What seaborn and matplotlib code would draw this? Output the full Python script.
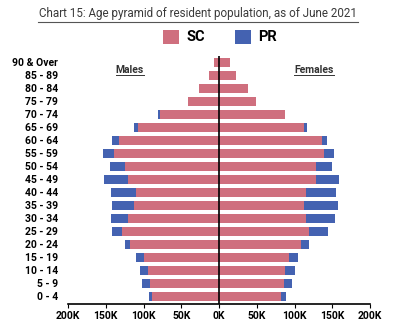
import matplotlib
matplotlib.use("Agg")
import matplotlib.pyplot as plt
from matplotlib.lines import Line2D
from matplotlib.patches import Patch
import seaborn as sns
import pandas as pd
import numpy as np

ages = ["90 & Over", "85 - 89", "80 - 84", "75 - 79", "70 - 74", "65 - 69", "60 - 64",
        "55 - 59", "50 - 54", "45 - 49", "40 - 44", "35 - 39", "30 - 34", "25 - 29",
        "20 - 24", "15 - 19", "10 - 14", "5 - 9", "0 - 4"]

male_sc = [6, 13, 27, 41, 78, 107, 133, 139, 124, 121, 110, 113, 120, 129, 118, 100, 94, 92, 89]
male_pr = [0, 0, 0, 0, 3, 6, 9, 14, 21, 31, 33, 29, 23, 13, 6, 10, 11, 10, 4]
female_sc = [14, 22, 38, 49, 88, 112, 136, 139, 128, 128, 115, 113, 115, 119, 108, 93, 88, 86, 82]
female_pr = [0, 0, 0, 0, 0, 4, 7, 13, 22, 31, 40, 44, 39, 25, 11, 12, 13, 11, 7]

ticks = [-200, -150, -100, -50, 0, 50, 100, 150, 200]
tick_labels = ["200K", "150K", "100K", "50K", "0K", "50K", "100K", "150K", "200K"]

SC_COLOR = "#CF6F7E"
PR_COLOR = "#4462B1"

plt.rcParams['font.family'] = ['Roboto', 'DejaVu Sans']

df = pd.DataFrame({
    "age": ages,
    "male_total": -(np.array(male_sc) + np.array(male_pr)) * 1.0,
    "male_sc": -np.array(male_sc) * 1.0,
    "female_total": (np.array(female_sc) + np.array(female_pr)) * 1.0,
    "female_sc": np.array(female_sc) * 1.0,
})

fig = plt.figure(figsize=(4.05, 3.27), dpi=100)
ax = fig.add_axes([68/405, 1-304/327, (370-68)/405, (304-56)/327])

bw = 0.76
sns.barplot(data=df, x="male_total", y="age", order=ages, color=PR_COLOR, width=bw,
            saturation=1, ax=ax, orient="h")
sns.barplot(data=df, x="female_total", y="age", order=ages, color=PR_COLOR, width=bw,
            saturation=1, ax=ax, orient="h")
sns.barplot(data=df, x="male_sc", y="age", order=ages, color=SC_COLOR, width=bw,
            saturation=1, ax=ax, orient="h")
sns.barplot(data=df, x="female_sc", y="age", order=ages, color=SC_COLOR, width=bw,
            saturation=1, ax=ax, orient="h")

n = len(ages)
ax.set_xlim(-200, 200)
ax.set_ylim(n - 1 + 0.58, -0.5)
ax.axvline(0, color="black", lw=1.2, zorder=5)

ax.set_xticks(ticks)
ax.set_xticklabels(tick_labels, fontsize=7.5, fontweight="bold")
ax.tick_params(axis="x", length=3, width=0.8, pad=2, colors="black")
ax.tick_params(axis="y", length=0, pad=7)
for lab in ax.get_yticklabels():
    lab.set_fontsize(7.5)
    lab.set_fontweight("bold")
ax.set_xlabel("")
ax.set_ylabel("")
for s in ["top", "right", "left"]:
    ax.spines[s].set_visible(False)
ax.spines["bottom"].set_color("black")
ax.spines["bottom"].set_linewidth(1.2)
ax.grid(False)

# Title with underline
fig.text(198/405, 1-14/327, "Chart 15: Age pyramid of resident population, as of June 2021",
         ha="center", va="center", fontsize=8.4, color="#3a3a3a")
fig.add_artist(Line2D([38/405, 358/405], [1-21.5/327, 1-21.5/327], color="#555555", lw=0.8))

# Legend
handles = [Patch(facecolor=SC_COLOR, edgecolor="none", label="SC"),
           Patch(facecolor=PR_COLOR, edgecolor="none", label="PR")]
fig.legend(handles=handles, loc="center", bbox_to_anchor=(220/405, 1-37/327), ncol=2,
           frameon=False, prop={"weight": "bold", "size": 10.5}, handlelength=1.1,
           handleheight=1.1, columnspacing=2.0, handletextpad=0.5)

# Males / Females labels
fig.text(130/405, 1-70/327, "Males", ha="center", va="center", fontsize=7.5,
         fontweight="bold", color="#333333")
fig.add_artist(Line2D([116/405, 144/405], [1-75/327, 1-75/327], color="#333333", lw=0.7))
fig.text(314/405, 1-70/327, "Females", ha="center", va="center", fontsize=7.5,
         fontweight="bold", color="#333333")
fig.add_artist(Line2D([294/405, 334/405], [1-75/327, 1-75/327], color="#333333", lw=0.7))

fig.savefig("out.png", dpi=100)
